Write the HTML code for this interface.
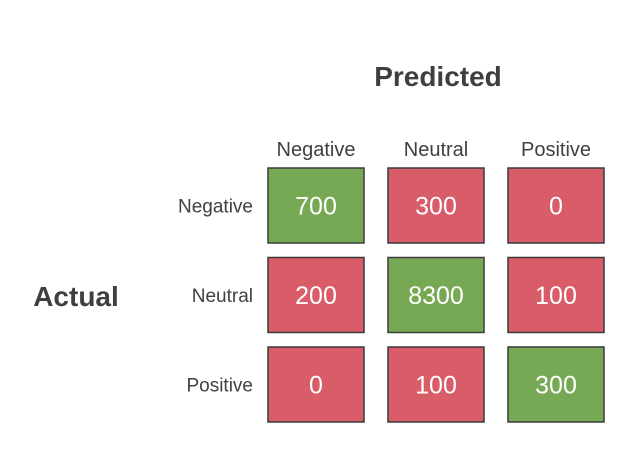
<!DOCTYPE html>
<html><head><meta charset="utf-8"><style>
body{margin:0;background:#fff;}
svg{display:block;font-family:"Liberation Sans",sans-serif;}
</style></head><body>
<svg id="cm" width="642" height="456" viewBox="0 0 642 456">
<text x="438" y="86" text-anchor="middle" font-size="28" font-weight="bold" fill="#3f3f3f">Predicted</text>
<text x="76" y="306" text-anchor="middle" font-size="28" font-weight="bold" fill="#3f3f3f">Actual</text>
</svg>
<script>
const labels=["Negative","Neutral","Positive"];
const values=[[700,300,0],[200,8300,100],[0,100,300]];
const svg=document.getElementById('cm');
const NS='http://www.w3.org/2000/svg';
const colX=i=>268+i*120, rowY=j=>168+j*89.5, W=96, H=75;
function mk(tag,attrs,txt){const e=document.createElementNS(NS,tag);for(const k in attrs)e.setAttribute(k,attrs[k]);if(txt!==undefined)e.textContent=txt;svg.appendChild(e);return e;}
labels.forEach((l,i)=>{
  const t=mk('text',{x:colX(i)+W/2,y:156,'text-anchor':'middle','font-size':20,fill:'#404040'},l);
  
  
  const r=mk('text',{x:253,y:rowY(i)+H/2+7,'text-anchor':'end','font-size':19,fill:'#404040'},l);
  
  
});
values.forEach((row,j)=>row.forEach((v,i)=>{
  const c=mk('rect',{x:colX(i),y:rowY(j),width:W,height:H,fill:i===j?'#77a955':'#d95c69',stroke:'#3a3a3a','stroke-width':1.5});
  
  
  const t=mk('text',{x:colX(i)+W/2,y:rowY(j)+H/2+9,'text-anchor':'middle','font-size':25,fill:'#fff'},String(v));
  
  
}));
</script>
</body></html>
